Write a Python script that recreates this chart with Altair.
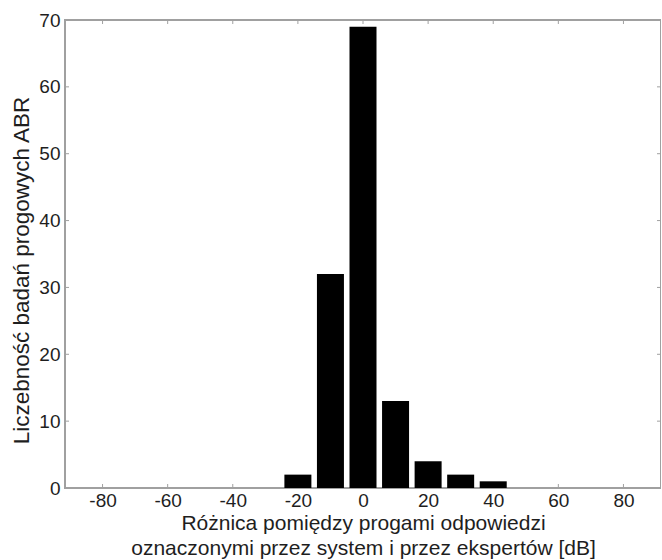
import altair as alt
import pandas as pd

# data
bin_centers = [-20, -10, 0, 10, 20, 30, 40]
counts = [2, 32, 69, 13, 4, 2, 1]
x_ticks = [-80, -60, -40, -20, 0, 20, 40, 60, 80]
y_ticks = [0, 10, 20, 30, 40, 50, 60, 70]
x_title = ["Różnica pomiędzy progami odpowiedzi", "oznaczonymi przez system i przez ekspertów [dB]"]
y_title = "Liczebność badań progowych ABR"

W, H = 596, 468
FONT = "Liberation Sans"
GRAY = "#a0a0a0"
TXT = "#1e1e1e"

df = pd.DataFrame({"x": bin_centers, "n": counts})
dfx = pd.DataFrame({"t": x_ticks})
dfy = pd.DataFrame({"t": y_ticks})

xscale = alt.Scale(domain=[-90, 90], nice=False, zero=False)
yscale = alt.Scale(domain=[0, 70], nice=False)

bars = alt.Chart(df).mark_bar(size=27, color="black").encode(
    x=alt.X("x:Q", scale=xscale,
            axis=alt.Axis(values=x_ticks, title=x_title, tickSize=0, labelPadding=3,
                          labelExpr="'' + datum.value",
                          domain=False, grid=False, titlePadding=2,
                          titleFontSize=21, titleLineHeight=25)),
    y=alt.Y("n:Q", scale=yscale,
            axis=alt.Axis(values=y_ticks, title=y_title, tickSize=0, labelPadding=5,
                          domain=False, grid=False, titlePadding=5,
                          titleFontSize=22.5, titleY=250)),
)

tick_style = dict(color=GRAY, strokeWidth=1)
xt_bottom = alt.Chart(dfx).mark_rule(**tick_style).encode(
    x=alt.X("t:Q", scale=xscale), y=alt.value(H), y2=alt.value(H - 4))
xt_top = alt.Chart(dfx).mark_rule(**tick_style).encode(
    x=alt.X("t:Q", scale=xscale), y=alt.value(0), y2=alt.value(4))
yt_left = alt.Chart(dfy).mark_rule(**tick_style).encode(
    y=alt.Y("t:Q", scale=yscale), x=alt.value(0), x2=alt.value(4))
yt_right = alt.Chart(dfy).mark_rule(**tick_style).encode(
    y=alt.Y("t:Q", scale=yscale), x=alt.value(W), x2=alt.value(W - 4))

chart = alt.layer(xt_bottom, xt_top, yt_left, yt_right, bars).properties(
    width=W, height=H,
    autosize=alt.AutoSizeParams(type="none"),
    padding={"left": 65, "top": 20, "right": 0, "bottom": 72},
    background="white",
).configure_view(
    stroke=GRAY, strokeWidth=2
).configure_axis(
    labelFont=FONT, titleFont=FONT, labelFontSize=19,
    labelColor=TXT, titleColor=TXT, titleFontWeight="normal",
)

chart.save("out.html", embed_options={"renderer": "svg", "actions": False})
